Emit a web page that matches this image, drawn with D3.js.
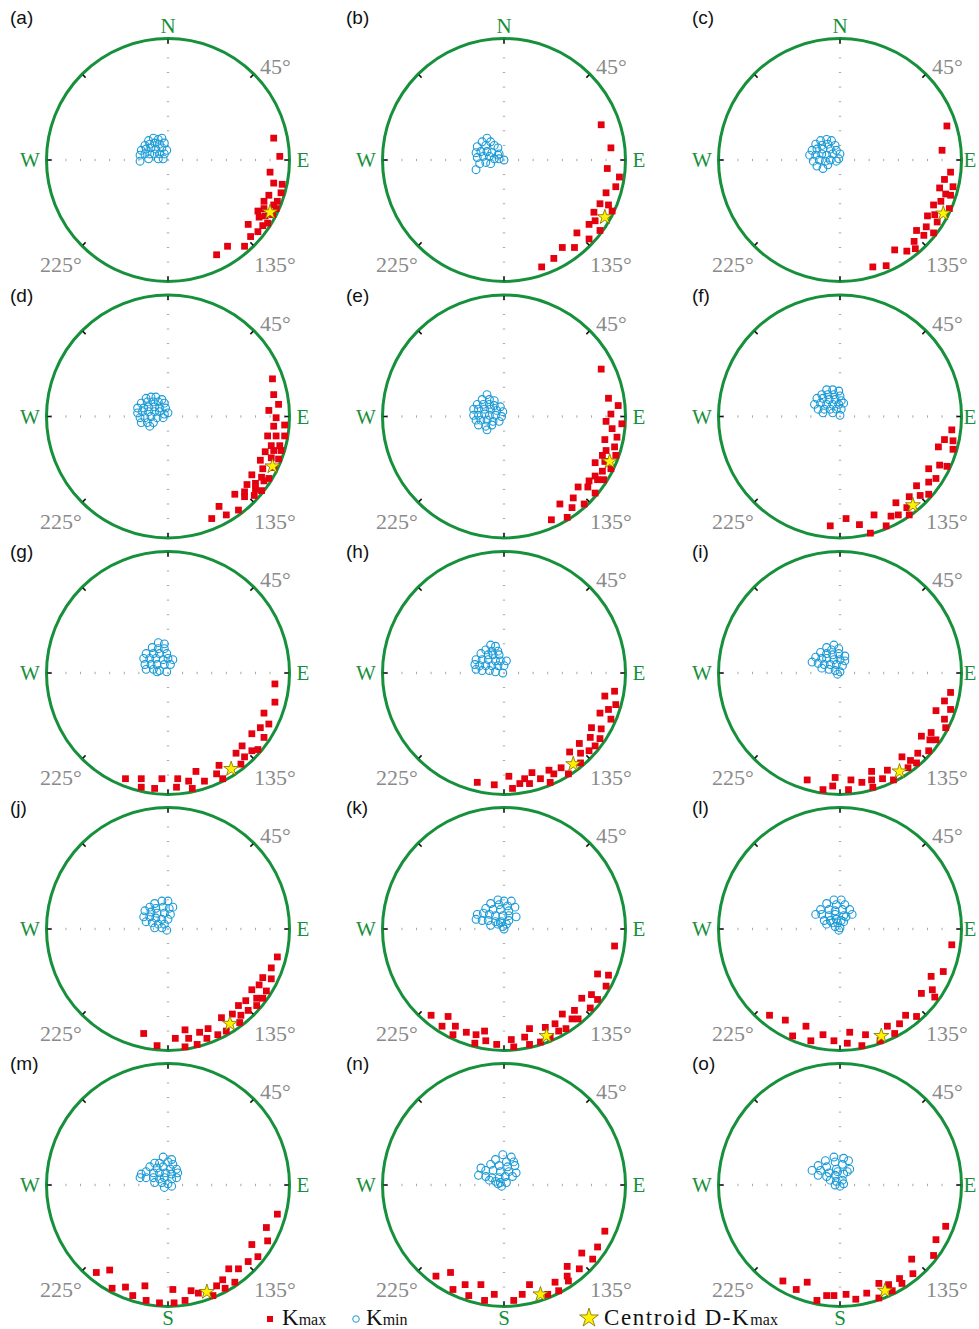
<!DOCTYPE html>
<html>
<head>
<meta charset="utf-8">
<script src="https://cdn.jsdelivr.net/npm/d3@7"></script>
<style>
body { margin: 0; background: #fff; }
</style>
</head>
<body>
<div id="chart"></div>
<script>
// projected positions on the equal-area net, in % of the primitive radius (x = east, y = north)
var kmax_a = [[87,18],[92,3],[84,-10],[87,-19],[94,-20],[83,-29],[93,-27],[79,-34],[90,-34],[74,-42],[79,-40],[87,-37],[89,-40],[75,-47],[80,-46],[86,-45],[66,-53],[78,-54],[82,-52],[74,-59],[68,-63],[63,-71],[49,-71],[40,-78]];
var kmin_a = [[-16,16],[-12,18],[-8,17],[-5,18],[-19,12],[-15,13],[-11,14],[-7,13],[-3,14],[-22,8],[-18,9],[-14,10],[-10,9],[-5,10],[-1,8],[-23,4],[-19,5],[-15,5],[-11,5],[-7,5],[-3,5],[-23,-1],[-16,1],[-8,1],[-4,1]];
var star_a = [84,-43];

var kmax_b = [[80,29],[88,10],[85,-7],[95,-14],[92,-22],[84,-27],[79,-36],[86,-37],[74,-43],[89,-42],[75,-50],[70,-53],[79,-58],[60,-60],[70,-65],[58,-72],[48,-72],[41,-81],[31,-88]];
var kmin_b = [[-14,18],[-18,15],[-11,15],[-22,11],[-15,12],[-8,12],[-5,10],[-23,6],[-19,7],[-14,7],[-10,6],[-4,5],[0,0],[-22,2],[-17,3],[-12,3],[-8,1],[-4,1],[-20,-3],[-15,-2],[-11,-3],[-23,-8],[-5,4]];
var star_b = [83,-47];

var kmax_c = [[88,28],[84,8],[91,-10],[86,-16],[93,-22],[82,-23],[87,-28],[91,-29],[77,-37],[83,-34],[90,-40],[72,-46],[78,-45],[80,-51],[71,-55],[63,-58],[69,-62],[77,-60],[61,-67],[55,-75],[62,-73],[45,-74],[38,-87],[27,-88]];
var kmin_c = [[-16,16],[-11,17],[-7,16],[-20,13],[-15,12],[-10,13],[-4,12],[-23,8],[-19,9],[-14,9],[-8,9],[-3,8],[0,5],[-25,4],[-20,4],[-15,5],[-11,4],[-6,5],[-1,1],[-22,-1],[-17,0],[-12,-1],[-8,0],[-3,-1],[-19,-5],[-14,-7],[-10,-4]];
var star_c = [85,-44];

var kmax_d = [[86,31],[87,18],[91,10],[83,5],[89,-1],[87,-8],[96,-7],[82,-16],[89,-16],[96,-16],[85,-24],[92,-24],[80,-29],[87,-28],[93,-28],[85,-34],[91,-35],[76,-36],[78,-43],[87,-42],[69,-48],[77,-50],[72,-55],[79,-53],[83,-51],[65,-56],[72,-60],[77,-61],[55,-64],[63,-62],[71,-65],[63,-66],[42,-74],[58,-77],[48,-81],[36,-84]];
var kmin_d = [[-18,15],[-14,16],[-10,16],[-5,14],[-22,11],[-17,12],[-12,12],[-8,12],[-3,11],[-25,7],[-20,7],[-16,8],[-11,8],[-7,7],[-2,7],[0,3],[-25,3],[-21,4],[-16,4],[-11,4],[-7,4],[-3,2],[-23,-1],[-19,-1],[-14,0],[-9,-1],[-4,-1],[-22,-5],[-17,-5],[-12,-5],[-15,-8]];
var star_d = [86,-41];

var kmax_e = [[80,39],[86,15],[94,9],[88,2],[84,-4],[97,-6],[89,-10],[83,-19],[93,-17],[91,-25],[84,-28],[81,-32],[92,-32],[75,-38],[83,-37],[81,-45],[88,-43],[75,-49],[70,-53],[77,-52],[82,-52],[61,-58],[69,-58],[75,-63],[57,-67],[46,-72],[56,-75],[66,-72],[39,-85],[52,-83]];
var kmin_e = [[-14,18],[-18,14],[-12,14],[-8,13],[-22,10],[-17,10],[-12,10],[-8,9],[-3,8],[-25,6],[-21,6],[-16,6],[-11,6],[-6,5],[-1,4],[-25,1],[-21,1],[-16,2],[-12,1],[-7,1],[-2,0],[-23,-3],[-19,-3],[-14,-3],[-9,-4],[-4,-4],[-21,-7],[-15,-8],[-10,-7],[-14,-11]];
var star_e = [87,-37];

var kmax_f = [[92,-11],[86,-19],[93,-20],[81,-25],[93,-27],[82,-40],[88,-41],[73,-43],[73,-54],[79,-51],[63,-57],[73,-64],[66,-65],[57,-66],[46,-71],[55,-75],[48,-81],[42,-82],[57,-81],[28,-81],[38,-90],[25,-96],[16,-89],[5,-84],[-8,-90]];
var kmin_f = [[-11,22],[-6,22],[-1,21],[-15,18],[-10,18],[-5,18],[0,17],[-19,15],[-14,15],[-9,14],[-4,14],[1,13],[-21,10],[-16,11],[-11,10],[-6,10],[-1,10],[3,11],[-18,6],[-13,6],[-8,6],[-3,6],[1,6],[-14,3],[-6,3],[0,1]];
var star_f = [60,-73];

var kmax_g = [[88,-9],[88,-24],[79,-33],[76,-45],[83,-42],[69,-50],[79,-53],[61,-60],[74,-63],[56,-66],[63,-69],[69,-64],[42,-76],[60,-75],[40,-83],[45,-87],[23,-81],[30,-89],[17,-89],[20,-95],[8,-87],[7,-94],[-5,-87],[-11,-95],[-22,-87],[-22,-94],[-35,-87]];
var kmin_g = [[-8,25],[-3,24],[-13,21],[-8,20],[-3,20],[-18,16],[-12,16],[-7,16],[-1,16],[-20,12],[-15,12],[-10,12],[-4,11],[0,12],[4,11],[-19,7],[-14,7],[-9,7],[-3,7],[2,7],[-18,3],[-12,3],[-7,2],[-1,1],[-9,1]];
var star_g = [52,-79];

var kmax_h = [[91,-15],[83,-19],[92,-26],[86,-30],[79,-33],[88,-38],[72,-45],[80,-46],[71,-53],[79,-54],[62,-58],[75,-60],[70,-64],[54,-65],[63,-66],[63,-74],[47,-78],[53,-83],[37,-80],[41,-83],[30,-87],[23,-82],[38,-90],[17,-87],[21,-91],[13,-91],[4,-85],[7,-95],[-8,-92],[-22,-90]];
var kmin_h = [[-11,23],[-7,22],[-15,19],[-10,18],[-5,18],[-19,16],[-13,15],[-9,15],[-4,15],[-23,11],[-18,11],[-13,11],[-7,10],[-3,10],[2,10],[-24,7],[-20,6],[-15,6],[-10,6],[-5,6],[0,6],[-23,3],[-18,2],[-12,2],[-7,1],[-1,0]];
var star_h = [57,-75];

var kmax_i = [[91,-16],[86,-23],[91,-30],[79,-31],[86,-38],[87,-45],[75,-49],[67,-52],[74,-55],[79,-55],[73,-64],[64,-66],[51,-69],[58,-72],[63,-74],[56,-78],[39,-80],[26,-81],[35,-87],[26,-88],[18,-90],[9,-88],[-4,-86],[-6,-93],[7,-96],[27,-94],[44,-88],[-14,-96],[-27,-88]];
var kmin_i = [[-5,23],[-11,21],[-7,19],[-1,20],[-16,17],[-11,16],[-6,15],[-1,16],[4,14],[-20,13],[-15,12],[-11,12],[-5,11],[0,11],[4,10],[-23,9],[-18,8],[-13,7],[-8,7],[-3,7],[2,6],[-15,4],[-9,3],[-4,2],[0,1],[-2,-1]];
var star_i = [49,-81];

var kmax_j = [[90,-23],[85,-32],[78,-40],[85,-41],[75,-46],[69,-50],[81,-51],[73,-57],[64,-59],[78,-57],[58,-63],[66,-67],[73,-63],[53,-70],[60,-71],[44,-73],[59,-77],[48,-84],[41,-87],[33,-82],[26,-85],[32,-90],[24,-95],[14,-83],[17,-90],[6,-90],[14,-97],[-9,-96],[-20,-86]];
var kmin_j = [[-5,23],[0,23],[4,18],[-11,21],[-15,18],[-10,17],[-4,18],[1,17],[-19,15],[-14,14],[-9,13],[-3,13],[2,12],[-20,10],[-15,10],[-10,9],[-5,8],[0,8],[-18,6],[-13,5],[-8,4],[-3,4],[-11,1],[-5,1],[-1,-1]];
var star_j = [51,-78];

var kmax_k = [[91,-14],[77,-37],[86,-38],[84,-47],[72,-54],[64,-57],[77,-58],[71,-65],[58,-67],[48,-70],[56,-74],[61,-74],[42,-78],[51,-82],[45,-84],[21,-82],[34,-81],[17,-89],[21,-95],[38,-89],[30,-93],[6,-91],[8,-97],[-6,-95],[-60,-71],[-46,-72],[-51,-80],[-40,-80],[-42,-87],[-31,-85],[-23,-87],[-16,-84],[-24,-94],[-15,-92]];
var kmin_k = [[-5,24],[0,23],[6,23],[-11,21],[-4,20],[3,19],[9,18],[-15,17],[-9,16],[-3,16],[4,15],[10,10],[-22,12],[-17,13],[-12,12],[-7,11],[-1,11],[4,11],[-23,8],[-18,7],[-13,7],[-7,6],[-2,6],[4,7],[-11,3],[-5,4],[-1,2],[-3,5],[0,0],[2,4]];
var star_k = [35,-88];

var kmax_l = [[92,-13],[85,-35],[75,-39],[76,-50],[67,-53],[78,-56],[63,-72],[54,-71],[49,-78],[39,-80],[45,-86],[33,-92],[21,-87],[18,-96],[8,-85],[6,-94],[-5,-92],[-14,-87],[-24,-92],[-28,-80],[-39,-88],[-45,-75],[-58,-71]];
var kmin_l = [[-5,24],[1,24],[-11,21],[-3,20],[4,20],[8,16],[-16,16],[-9,16],[-4,15],[2,16],[10,12],[-20,12],[-15,12],[-9,11],[-4,12],[3,11],[-13,7],[-8,7],[-3,8],[1,7],[5,10],[-11,4],[-6,5],[-2,5],[3,6],[-4,2],[0,1],[-1,-1]];
var star_l = [34,-88];

var kmax_m = [[90,-24],[81,-35],[82,-46],[69,-49],[74,-59],[66,-63],[58,-69],[50,-69],[45,-78],[55,-80],[40,-83],[47,-85],[37,-91],[25,-89],[19,-87],[14,-95],[5,-97],[4,-86],[-7,-97],[-18,-95],[-19,-83],[-29,-91],[-35,-84],[-46,-85],[-59,-72],[-48,-70]];
var kmin_m = [[-4,23],[3,21],[0,19],[-11,18],[-7,18],[4,17],[-15,15],[-9,14],[-4,15],[2,13],[7,13],[-22,9],[-18,11],[-12,10],[-7,10],[-2,10],[3,9],[8,10],[-23,6],[-18,6],[-12,6],[-7,5],[-3,6],[3,5],[7,6],[-11,2],[-5,2],[0,1],[-3,-2],[3,-1]];
var star_m = [32,-88];

var kmax_n = [[83,-38],[77,-51],[64,-56],[73,-61],[52,-67],[62,-69],[52,-75],[42,-80],[53,-79],[45,-87],[21,-82],[15,-90],[36,-90],[8,-95],[-8,-90],[-16,-95],[-19,-82],[-29,-91],[-32,-82],[-42,-86],[-44,-72],[-56,-75]];
var kmin_n = [[-1,25],[6,23],[-7,21],[2,19],[8,19],[-11,17],[-4,16],[3,15],[9,16],[-19,14],[-15,12],[-9,12],[-3,11],[4,11],[10,10],[-21,8],[-15,7],[-10,6],[-4,6],[1,7],[7,7],[-12,4],[-7,3],[-3,2],[2,2],[-2,-1],[-5,1]];
var star_n = [30,-90];

var kmax_o = [[87,-34],[79,-45],[77,-58],[59,-61],[60,-73],[49,-77],[51,-81],[40,-82],[43,-87],[32,-81],[32,-93],[22,-89],[13,-94],[5,-90],[-5,-91],[-11,-91],[-19,-95],[-27,-80],[-36,-86],[-47,-79]];
var kmin_o = [[-5,23],[3,22],[-12,20],[-4,19],[2,17],[-18,16],[-11,15],[-3,13],[7,20],[-23,12],[-16,12],[-9,10],[-2,11],[6,11],[-18,8],[-11,7],[-4,8],[3,9],[8,13],[-8,4],[-3,3],[2,4],[-4,0],[0,-1],[3,1]];
var star_o = [37,-87];

var panelLabels = ["(a)","(b)","(c)","(d)","(e)","(f)","(g)","(h)","(i)","(j)","(k)","(l)","(m)","(n)","(o)"];
var kmaxSets = [kmax_a,kmax_b,kmax_c,kmax_d,kmax_e,kmax_f,kmax_g,kmax_h,kmax_i,kmax_j,kmax_k,kmax_l,kmax_m,kmax_n,kmax_o];
var kminSets = [kmin_a,kmin_b,kmin_c,kmin_d,kmin_e,kmin_f,kmin_g,kmin_h,kmin_i,kmin_j,kmin_k,kmin_l,kmin_m,kmin_n,kmin_o];
var starSets = [star_a,star_b,star_c,star_d,star_e,star_f,star_g,star_h,star_i,star_j,star_k,star_l,star_m,star_n,star_o];
var degLabels = ["45°", "135°", "225°"];
var gridTicks = [-96,-84,-72,-60,-48,-36,-24,-12,0,12,24,36,48,60,72,84,96];
var rimAzimuths = [0,45,90,135,180,225,270,315];

var width = 979, height = 1329;
var R = 121.5;
var colX = [168, 504, 840];
var rowY = [160, 416.5, 673, 929, 1185];
var green = "#16903b", red = "#e4000f", blue = "#1a9ad6", grey = "#8a8a8a";
var serif = "'Liberation Serif', 'Times New Roman', serif";
var sans = "'Liberation Sans', Arial, sans-serif";

var svg = d3.select("#chart").append("svg")
    .attr("width", width)
    .attr("height", height)
    .style("background", "#fff");

var square = d3.symbol().type(d3.symbolSquare).size(46);
var star = d3.symbol().type(d3.symbolStar).size(70);

kmaxSets.forEach(function(kmax, i){
    var col = i % 3, row = Math.floor(i / 3);
    var cx = colX[col], cy = rowY[row];

    var x = d3.scaleLinear().domain([-100, 100]).range([cx - R, cx + R]);
    var y = d3.scaleLinear().domain([-100, 100]).range([cy + R, cy - R]);

    var g = svg.append("g");

    // dotted N-S and E-W lines made of small ticks
    g.selectAll(".tx").data(gridTicks).enter().append("line")
        .attr("x1", function(d){ return x(d); })
        .attr("x2", function(d){ return x(d); })
        .attr("y1", cy - 1.2).attr("y2", cy + 1.2)
        .attr("stroke", "#a8a8a8").attr("stroke-width", 1);
    g.selectAll(".ty").data(gridTicks).enter().append("line")
        .attr("y1", function(d){ return y(d); })
        .attr("y2", function(d){ return y(d); })
        .attr("x1", cx - 1.2).attr("x2", cx + 1.2)
        .attr("stroke", "#a8a8a8").attr("stroke-width", 1);

    g.append("circle")
        .attr("cx", cx).attr("cy", cy).attr("r", R)
        .attr("fill", "none")
        .attr("stroke", green)
        .attr("stroke-width", 3);

    // black ticks on the primitive circle
    g.selectAll(".rim").data(rimAzimuths).enter().append("line")
        .attr("x1", function(a){ return cx + (R - 1) * Math.sin(a * Math.PI / 180); })
        .attr("y1", function(a){ return cy - (R - 1) * Math.cos(a * Math.PI / 180); })
        .attr("x2", function(a){ return cx + (R - 5) * Math.sin(a * Math.PI / 180); })
        .attr("y2", function(a){ return cy - (R - 5) * Math.cos(a * Math.PI / 180); })
        .attr("stroke", "#111").attr("stroke-width", 1.6);

    g.selectAll(".kmin").data(kminSets[i]).enter().append("circle")
        .attr("cx", function(d){ return x(d[0]); })
        .attr("cy", function(d){ return y(d[1]); })
        .attr("r", 3.9)
        .attr("fill", "none")
        .attr("stroke", blue)
        .attr("stroke-width", 1.1);

    g.selectAll(".kmax").data(kmax).enter().append("path")
        .attr("d", square)
        .attr("transform", function(d){ return "translate(" + x(d[0]) + "," + y(d[1]) + ")"; })
        .attr("fill", red);

    g.append("path")
        .datum(starSets[i])
        .attr("d", star)
        .attr("transform", function(d){ return "translate(" + x(d[0]) + "," + y(d[1]) + ")"; })
        .attr("fill", "#fff200")
        .attr("stroke", "#7d6a00")
        .attr("stroke-width", 0.8);

    // compass letters
    if (row === 0) {
        g.append("text").attr("x", cx).attr("y", cy - 127)
            .attr("text-anchor", "middle").attr("fill", green)
            .style("font-family", serif).style("font-size", "21px").text("N");
    }
    if (row === 4) {
        g.append("text").attr("x", cx).attr("y", cy + 140)
            .attr("text-anchor", "middle").attr("fill", green)
            .style("font-family", serif).style("font-size", "21px").text("S");
    }
    g.append("text").attr("x", cx - 138).attr("y", cy + 7)
        .attr("text-anchor", "middle").attr("fill", green)
        .style("font-family", serif).style("font-size", "21px").text("W");
    g.append("text").attr("x", Math.min(cx + 135, 970)).attr("y", cy + 7)
        .attr("text-anchor", "middle").attr("fill", green)
        .style("font-family", serif).style("font-size", "21px").text("E");

    // azimuth labels
    var degPos = [[cx + 92, cy - 86], [cx + 86, cy + 112], [cx - 128, cy + 112]];
    g.selectAll(".deg").data(degLabels).enter().append("text")
        .attr("x", function(d, k){ return degPos[k][0]; })
        .attr("y", function(d, k){ return degPos[k][1]; })
        .attr("fill", grey)
        .style("font-family", serif).style("font-size", "22px")
        .text(function(d){ return d; });

    g.append("text")
        .attr("x", cx - 158 + (col === 2 ? 10 : 0))
        .attr("y", row === 0 ? cy - 136 : cy - 115)
        .style("font-family", sans).style("font-size", "19px")
        .attr("fill", "#111")
        .text(panelLabels[i]);
});

// legend
var leg = svg.append("g");
var ly = 1325;
leg.append("path").attr("d", d3.symbol().type(d3.symbolSquare).size(36))
    .attr("transform", "translate(270," + (ly - 6) + ")").attr("fill", red);
var t1 = leg.append("text").attr("x", 282).attr("y", ly)
    .style("font-family", serif).style("font-size", "23px").attr("fill", "#111");
t1.append("tspan").text("K");
t1.append("tspan").style("font-size", "16px").text("max");

leg.append("circle").attr("cx", 356).attr("cy", ly - 6).attr("r", 3.3)
    .attr("fill", "none").attr("stroke", blue).attr("stroke-width", 1);
var t2 = leg.append("text").attr("x", 366).attr("y", ly)
    .style("font-family", serif).style("font-size", "23px").attr("fill", "#111");
t2.append("tspan").text("K");
t2.append("tspan").style("font-size", "16px").text("min");

leg.append("path").attr("d", d3.symbol().type(d3.symbolStar).size(110))
    .attr("transform", "translate(589," + (ly - 7) + ")")
    .attr("fill", "#fff200").attr("stroke", "#7d6a00").attr("stroke-width", 0.8);
var t3 = leg.append("text").attr("x", 604).attr("y", ly)
    .style("font-family", serif).style("font-size", "23px")
    .style("letter-spacing", "1.6px").attr("fill", "#111");
t3.append("tspan").text("Centroid D-K");
t3.append("tspan").style("font-size", "16px").style("letter-spacing", "0px").text("max");
</script>
</body>
</html>
